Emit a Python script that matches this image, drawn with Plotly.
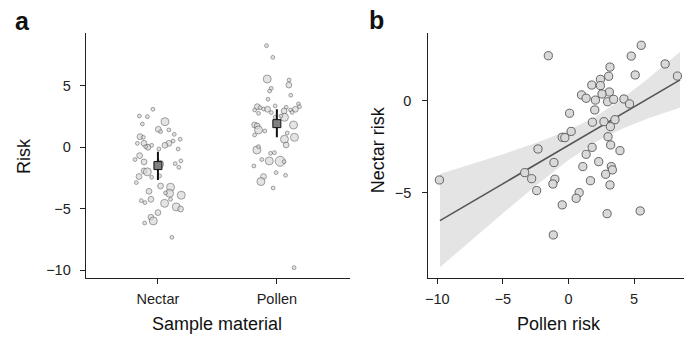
import plotly.graph_objects as go

# ---------------- data ----------------
categories = ["Nectar", "Pollen"]

# panel a: individual risk values, horizontal jitter (category units), weight class
nectar_values = [3.09, 2.54, 2.49, 2.08, 1.89, 1.46, 1.27, 1.41, 1.05, 0.86, 0.81, 0.65, 0.32, 0.16,
                 0.51, 0.32, 0.32, 0.0, 0.05, 0.16, -0.14, -0.14, -0.68, -1.0, -1.11, -1.19, -1.33,
                 -1.63, -1.38, -1.92, -2.0, -2.38, -2.87, -2.44, -2.33, -3.15, -3.25, -3.74, -3.9,
                 -3.58, -3.72, -4.34, -4.5, -4.23, -4.56, -4.23, -4.85, -5.02, -5.31, -5.69, -5.99,
                 -6.16, -7.32]
nectar_jitter = [-0.042, -0.156, -0.089, 0.059, -0.131, 0.003, 0.022, 0.092, 0.137, -0.151, -0.123,
                 0.187, 0.092, 0.059, 0.128, -0.173, -0.117, -0.084, -0.103, -0.053, 0.008, 0.170,
                 -0.154, -0.193, 0.193, -0.117, 0.145, 0.176, 0.014, -0.117, -0.089, -0.159, -0.182,
                 -0.053, 0.014, 0.022, 0.106, 0.098, 0.196, -0.075, 0.064, -0.140, -0.109, -0.059,
                 0.056, 0.106, 0.154, 0.190, 0.0, -0.059, -0.039, -0.112, 0.117]
nectar_weight = [1, 1, 1, 3, 1, 2, 1, 1, 1, 2, 1, 1, 2, 2, 1, 1, 2, 2, 1, 1, 1, 1, 2, 1, 1, 2, 1,
                 1, 3, 2, 3, 2, 1, 1, 1, 2, 3, 3, 3, 2, 1, 1, 1, 2, 3, 1, 3, 2, 2, 2, 3, 1, 1]

pollen_values = [8.26, 7.31, 5.55, 5.47, 5.06, 4.79, 4.57, 4.23, 3.90, 3.52, 3.30, 3.30, 3.22, 3.03,
                 3.11, 3.09, 3.36, 3.25, 2.95, 3.03, 3.09, 2.84, 2.76, 2.82, 2.44, 2.54, 2.44, 1.81,
                 1.81, 1.73, 1.41, 1.0, 1.32, 0.65, 0.81, 1.16, 0.19, -0.22, 0.05, -0.49, -0.44,
                 -1.11, -1.14, -1.17, -1.0, -1.52, -2.06, -2.28, -2.38, -2.79, -3.31, -9.79]
pollen_jitter = [-0.087, -0.034, -0.081, 0.103, 0.101, -0.047, -0.061, 0.117, -0.075, 0.182, 0.190,
                 -0.165, -0.142, -0.187, -0.112, -0.078, -0.014, 0.078, 0.061, 0.115, 0.156, 0.128,
                 -0.154, -0.047, 0.064, 0.034, -0.014, 0.140, -0.187, -0.165, -0.154, -0.187, -0.101,
                 0.064, 0.148, 0.087, 0.078, -0.168, -0.154, -0.053, -0.020, -0.064, 0.028, 0.061,
                 -0.126, -0.193, -0.006, 0.073, -0.112, -0.134, -0.031, 0.145]
pollen_weight = [1, 1, 3, 1, 2, 1, 1, 1, 1, 1, 1, 2, 1, 1, 1, 2, 1, 1, 2, 1, 2, 1, 1, 1, 3, 1, 1, 3,
                 2, 2, 3, 1, 1, 3, 3, 1, 2, 3, 1, 1, 1, 3, 4, 1, 1, 1, 1, 1, 2, 3, 1, 1]

group_means = [-1.49, 1.92]
group_upper = [-0.36, 3.09]
group_lower = [-2.66, 0.81]

# panel b: paired risks
pollen_risk = [-9.84, -1.54, 5.54, 4.78, 7.36, 8.3, 3.16, 3.06, 5.08, 2.43, 1.77, 2.43, 3.11, 0.99,
               1.34, 2.05, 2.55, 2.98, 3.44, 4.22, 4.65, 2.0, 0.08, 1.82, 2.7, 3.54, 3.19, 0.2,
               -0.48, -0.28, 3.01, 3.21, 1.8, 3.92, -2.33, 1.34, 2.3, -1.11, -3.34, -2.81, 1.09,
               3.26, 3.34, 2.83, 1.67, -1.04, -1.19, -2.43, 3.16, 0.81, 0.58, -0.48, 2.94, 5.46,
               -1.16]
nectar_risk = [-4.31, 2.47, 3.04, 2.45, 2.02, 1.36, 1.85, 1.35, 1.42, 1.18, 0.87, 0.84, 0.49, 0.33,
               0.15, 0.05, 0.38, -0.04, 0.09, 0.11, -0.16, -0.49, -0.67, -1.16, -1.13, -1.02, -1.4,
               -1.66, -1.98, -2.0, -1.95, -2.4, -2.53, -2.71, -2.62, -2.91, -3.31, -3.36, -3.91,
               -4.24, -3.58, -3.58, -3.76, -4.0, -4.35, -4.27, -4.53, -4.89, -4.58, -5.0, -5.31,
               -5.67, -6.15, -6.0, -7.31]

fit_x = [-9.8, 8.5]
fit_y = [-6.53, 1.15]
band_x = [-9.8, -7.5, -5.0, -2.5, 0.0, 2.0, 4.0, 6.0, 8.5]
band_upper = [-3.98, -3.47, -2.90, -2.29, -1.60, -0.87, 0.08, 1.19, 2.68]
band_lower = [-9.08, -7.65, -6.12, -4.63, -3.22, -2.27, -1.54, -0.97, -0.36]

# ---------------- styling ----------------
W, H = 684, 337
FONT = "Liberation Sans"
AX = "#222222"
PT_FILL = "#d9d9d9"
PT_EDGE = "#555555"
size_map = {1: 3.8, 2: 5.8, 3: 8.0, 4: 10.0}

fig = go.Figure()

for gi, (vals, jit, wts) in enumerate([(nectar_values, nectar_jitter, nectar_weight),
                                        (pollen_values, pollen_jitter, pollen_weight)]):
    fig.add_trace(go.Scatter(
        x=[gi + j for j in jit], y=vals, mode="markers",
        marker=dict(size=[size_map[w] for w in wts], color=PT_FILL,
                    line=dict(color=PT_EDGE, width=0.8)),
        xaxis="x", yaxis="y", showlegend=False, hoverinfo="skip"))

fig.add_trace(go.Scatter(
    x=[0, 1], y=group_means, mode="markers",
    marker=dict(symbol="square", size=8, color="#808080", line=dict(color="#111111", width=1)),
    error_y=dict(type="data", symmetric=False,
                 array=[u - m for u, m in zip(group_upper, group_means)],
                 arrayminus=[m - l for m, l in zip(group_means, group_lower)],
                 color="#111111", thickness=2, width=0),
    xaxis="x", yaxis="y", showlegend=False, hoverinfo="skip"))

# panel b
fig.add_trace(go.Scatter(
    x=band_x + band_x[::-1], y=band_upper + band_lower[::-1], fill="toself",
    fillcolor="rgba(228,228,228,1)", line=dict(width=0), mode="lines",
    xaxis="x2", yaxis="y2", showlegend=False, hoverinfo="skip"))
fig.add_trace(go.Scatter(
    x=fit_x, y=fit_y, mode="lines", line=dict(color="#555555", width=1.6),
    xaxis="x2", yaxis="y2", showlegend=False, hoverinfo="skip"))
fig.add_trace(go.Scatter(
    x=pollen_risk, y=nectar_risk, mode="markers",
    marker=dict(size=8.2, color=PT_FILL, line=dict(color=PT_EDGE, width=0.9)),
    xaxis="x2", yaxis="y2", showlegend=False, hoverinfo="skip"))

y_dom = [(H - 278) / H, (H - 33) / H]
common = dict(showline=True, linecolor=AX, linewidth=1, ticks="outside", ticklen=5,
              tickcolor=AX, tickwidth=1, showgrid=False, zeroline=False,
              tickfont=dict(family=FONT, size=14.5, color="#222222"))

fig.update_layout(
    width=W, height=H, margin=dict(l=0, r=0, t=0, b=0),
    paper_bgcolor="white", plot_bgcolor="white",
    xaxis=dict(domain=[83 / W, 349 / W], range=[-0.608, 1.619], tickvals=[0, 1],
               ticktext=categories, anchor="y", ticklabelstandoff=3, **common),
    yaxis=dict(domain=y_dom, range=[-10.63, 9.29], tickvals=[5, 0, -5, -10], anchor="x",
               ticklabelstandoff=6, **common),
    xaxis2=dict(domain=[427 / W, 1.0], range=[-10.70, 8.80], tickvals=[-10, -5, 0, 5],
                anchor="y2", ticklabelstandoff=3, **common),
    yaxis2=dict(domain=y_dom, range=[-9.66, 3.71], tickvals=[0, -5], anchor="x2",
                ticklabelstandoff=8, **common),
)

def px_ann(text, x, y, size, angle=0, bold=False):
    fig.add_annotation(text=f"<b>{text}</b>" if bold else text, xref="paper", yref="paper",
                       x=x / W, y=1 - y / H, xanchor="center", yanchor="middle",
                       showarrow=False, textangle=angle,
                       font=dict(family=FONT, size=size, color="#111111"))

px_ann("Risk", 21, 156, 18, angle=-90)
px_ann("Sample material", 215, 324, 18)
px_ann("Nectar risk", 377, 150, 18, angle=-90)
px_ann("Pollen risk", 558, 324, 18)
px_ann("a", 20, 21, 25, bold=True)
px_ann("b", 375, 20, 25, bold=True)

fig.write_html("out.html")
